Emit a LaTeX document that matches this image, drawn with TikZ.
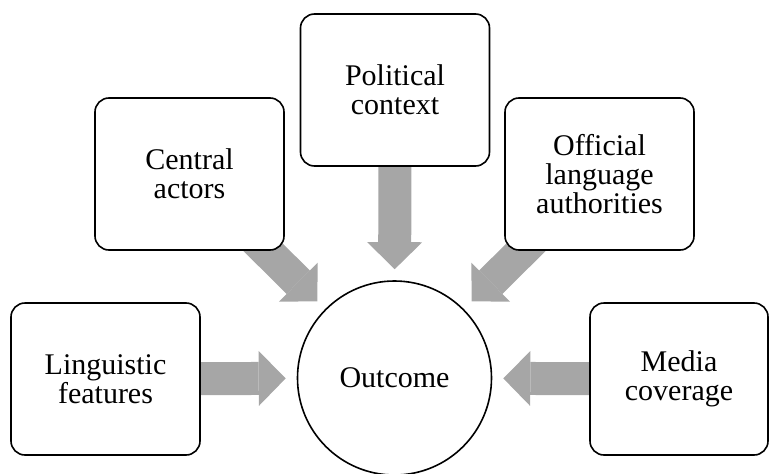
\documentclass[tikz,border=0pt]{standalone}
\usepackage{fontspec}
\setmainfont{Liberation Serif}
\usetikzlibrary{arrows.meta,backgrounds}
\definecolor{arrowgray}{RGB}{166,166,166}

\begin{document}
\begin{tikzpicture}[x=1pt,y=-1pt,
		box node/.style={rectangle,draw,fill=white,line width=1.6pt,rounded corners=14pt,
			minimum width=189pt,minimum height=152pt,align=center,font=\fontsize{30}{29}\selectfont},
		hub node/.style={circle,draw,fill=white,line width=1.6pt,minimum size=194pt,inner sep=0pt,
			font=\fontsize{30}{29}\selectfont},
		block arrow/.style={draw=arrowgray,line width=33pt,
			-{Triangle[width=55pt,length=27pt,line width=0pt]},shorten >=11pt,shorten <=-40pt}]

	\useasboundingbox (0,0) rectangle (769,474);

	\node[hub node] (0) at (394.5,378) {Outcome};
	\node[box node] (1) at (105.5,379) {Linguistic\\features};
	\node[box node] (2) at (189.5,174) {Central\\actors};
	\node[box node] (3) at (395,90) {Political\\context};
	\node[box node] (4) at (599.5,174) {Official\\language\\authorities};
	\node[box node,minimum width=178pt] (5) at (679,379) {Media\\coverage};

	\begin{scope}[on background layer]
		\path[every edge/.style={block arrow}]
		(1) edge (0)
		(2) edge (0)
		(3) edge (0)
		(4) edge (0)
		(5) edge (0);
	\end{scope}
\end{tikzpicture}
\end{document}
